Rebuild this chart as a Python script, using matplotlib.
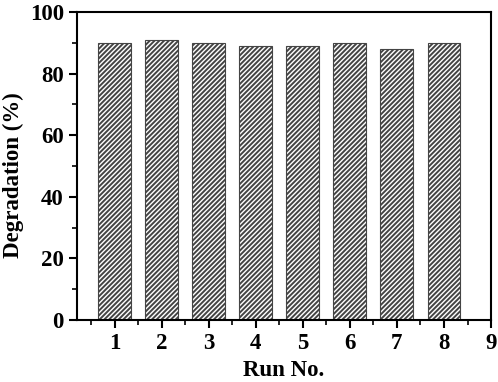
import matplotlib
matplotlib.use("Agg")
import matplotlib.pyplot as plt
from matplotlib.ticker import MultipleLocator

runs = [1, 2, 3, 4, 5, 6, 7, 8]
degradation = [90, 91, 90, 89, 89, 90, 88, 90]

plt.rcParams["font.family"] = ["Liberation Serif", "DejaVu Serif"]
plt.rcParams["font.weight"] = "bold"
plt.rcParams["hatch.linewidth"] = 1.4

fig = plt.figure(figsize=(4.98, 3.82), dpi=100)
ax = fig.add_axes([0.1546, 0.1623, 0.8314, 0.8063])

ax.bar(runs, degradation, width=0.7, color="white", edgecolor="#444444",
       hatch="/" * 7, linewidth=0.8)

ax.set_xlim(0.2, 9)
ax.set_ylim(0, 100)
ax.xaxis.set_minor_locator(MultipleLocator(0.5))
ax.yaxis.set_major_locator(MultipleLocator(20))
ax.yaxis.set_minor_locator(MultipleLocator(10))
ax.set_xticks(range(1, 10))

ax.tick_params(which="major", direction="out", length=6, width=1.5, labelsize=16.5)
ax.tick_params(which="minor", direction="out", length=3.5, width=1.2)
for s in ax.spines.values():
    s.set_linewidth(1.5)

ax.set_xlabel("Run No.", fontsize=16.5, fontweight="bold", labelpad=4)
ax.set_ylabel("Degradation (%)", fontsize=16.5, fontweight="bold")
ax.yaxis.set_label_coords(-0.128, 0.47)

fig.savefig("out.png", dpi=100)
